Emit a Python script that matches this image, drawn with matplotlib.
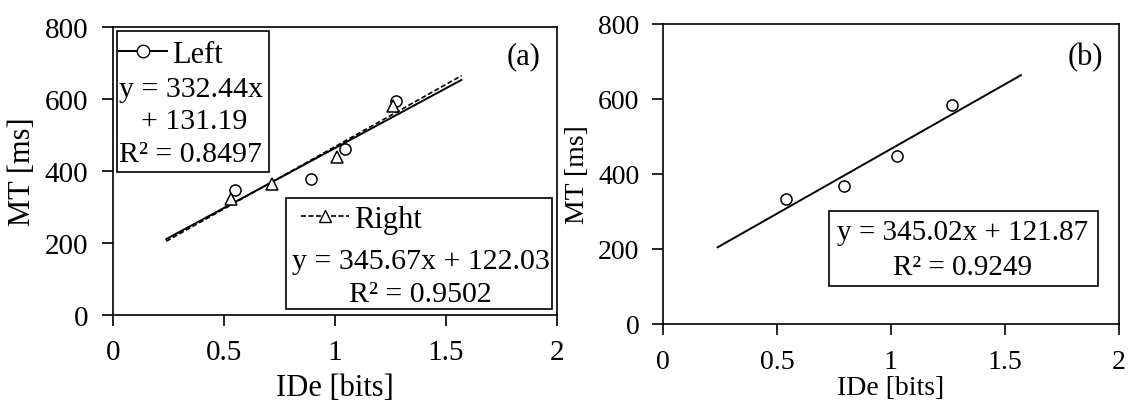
import matplotlib
matplotlib.use("Agg")
import matplotlib.pyplot as plt
import numpy as np
from matplotlib.lines import Line2D
from matplotlib.patches import Rectangle

plt.rcParams['font.family'] = ['Liberation Serif', 'DejaVu Serif']

# Panel (a) data
left_x = [0.55, 0.89, 1.045, 1.273]
left_y = [348, 377, 462, 595]
right_x = [0.532, 0.716, 1.01, 1.263]
right_y = [322, 363, 438, 581]
left_fit = [332.44, 131.19]
right_fit = [345.67, 122.03]

# Panel (b) data
b_x = [0.538, 0.794, 1.025, 1.269]
b_y = [333, 369, 449, 585]
b_fit = [345.02, 121.87]

fit_range = [0.24, 1.57]
xticks = [0, 0.5, 1, 1.5, 2]
xtick_labels = ['0', '0.5', '1', '1.5', '2']
yticks = [0, 200, 400, 600, 800]

fig = plt.figure(figsize=(11.28, 4.06), dpi=100)
axa = fig.add_axes([113/1128, 1-316/406, 444/1128, 288/406])
axb = fig.add_axes([663/1128, 1-325/406, 456/1128, 300/406])


def style(ax, tfs, lfs, xpad, ypad, xlpad, ylpad):
    ax.set_xlim(0, 2)
    ax.set_ylim(0, 800)
    ax.set_xticks(xticks)
    ax.set_xticklabels(xtick_labels)
    ax.set_yticks(yticks)
    ax.tick_params(direction='out', length=8, width=1.2, labelsize=tfs)
    ax.tick_params(axis='x', pad=xpad)
    ax.tick_params(axis='y', pad=ypad)
    for s in ax.spines.values():
        s.set_linewidth(1.2)
    ax.set_xlabel('IDe [bits]', fontsize=lfs, labelpad=xlpad)
    ax.set_ylabel('MT [ms]', fontsize=lfs, labelpad=ylpad)


fx = np.array(fit_range)

# ---- Panel (a)
style(axa, 21, 22, 9, 10, 6, 5)
axa.plot(fx, left_fit[0]*fx + left_fit[1], color='black', lw=1.4, ls='-')
axa.plot(fx, right_fit[0]*fx + right_fit[1], color='black', lw=1.2, ls=(0, (3, 1.5)))
axa.plot(left_x, left_y, ls='none', marker='o', ms=8, mfc='white', mec='black', mew=1.1)
axa.plot(right_x, right_y, ls='none', marker='^', ms=8, mfc='white', mec='black', mew=1.1)
axa.text(0.925, 0.90, '(a)', transform=axa.transAxes, fontsize=22, ha='center', va='center')

axa.add_patch(Rectangle((0.008, 0.497), 0.343, 0.489, transform=axa.transAxes,
                        fill=True, fc='white', ec='black', lw=1.2, zorder=3))
axa.add_patch(Rectangle((0.389, 0.021), 0.599, 0.385, transform=axa.transAxes,
                        fill=True, fc='white', ec='black', lw=1.2, zorder=3))

h_left = Line2D([], [], color='black', lw=1.4, marker='o', ms=9, mfc='white', mec='black')
h_right = Line2D([], [], color='black', lw=1.2, ls=(0, (3, 1.5)), marker='^', ms=9,
                 mfc='white', mec='black')
leg1 = axa.legend([h_left], ['Left'], loc='center left', bbox_to_anchor=(-0.015, 0.906),
                  frameon=False, fontsize=22, handlelength=1.6, handletextpad=0.15,
                  borderaxespad=0)
leg1.set_zorder(4)
axa.add_artist(leg1)
leg2 = axa.legend([h_right], ['Right'], loc='center left', bbox_to_anchor=(0.395, 0.333),
                  frameon=False, fontsize=22, handlelength=1.6, handletextpad=0.15,
                  borderaxespad=0)
leg2.set_zorder(4)

axa.text(0.014, 0.785, f'y = {left_fit[0]:.2f}x', transform=axa.transAxes,
         fontsize=21.5, ha='left', va='center', zorder=5)
axa.text(0.063, 0.674, f'+ {left_fit[1]:.2f}', transform=axa.transAxes,
         fontsize=21.5, ha='left', va='center', zorder=5)
axa.text(0.014, 0.559, 'R² = 0.8497', transform=axa.transAxes,
         fontsize=21.5, ha='left', va='center', zorder=5)
axa.text(0.693, 0.188, f'y = {right_fit[0]:.2f}x + {right_fit[1]:.2f}', transform=axa.transAxes,
         fontsize=21.5, ha='center', va='center', zorder=5)
axa.text(0.693, 0.073, 'R² = 0.9502', transform=axa.transAxes,
         fontsize=21.5, ha='center', va='center', zorder=5)

# ---- Panel (b)
style(axb, 20, 20, 10, 9, 1, 6)
axb.plot(fx, b_fit[0]*fx + b_fit[1], color='black', lw=1.4)
axb.plot(b_x, b_y, ls='none', marker='o', ms=8, mfc='white', mec='black', mew=1.1)
axb.text(0.926, 0.893, '(b)', transform=axb.transAxes, fontsize=22, ha='center', va='center')
axb.add_patch(Rectangle((0.364, 0.127), 0.590, 0.250, transform=axb.transAxes,
                        fill=True, fc='white', ec='black', lw=1.2, zorder=3))
axb.text(0.658, 0.307, f'y = {b_fit[0]:.2f}x + {b_fit[1]:.2f}', transform=axb.transAxes,
         fontsize=21, ha='center', va='center', zorder=5)
axb.text(0.658, 0.19, 'R² = 0.9249', transform=axb.transAxes,
         fontsize=21, ha='center', va='center', zorder=5)

fig.savefig('out.png', dpi=100)
